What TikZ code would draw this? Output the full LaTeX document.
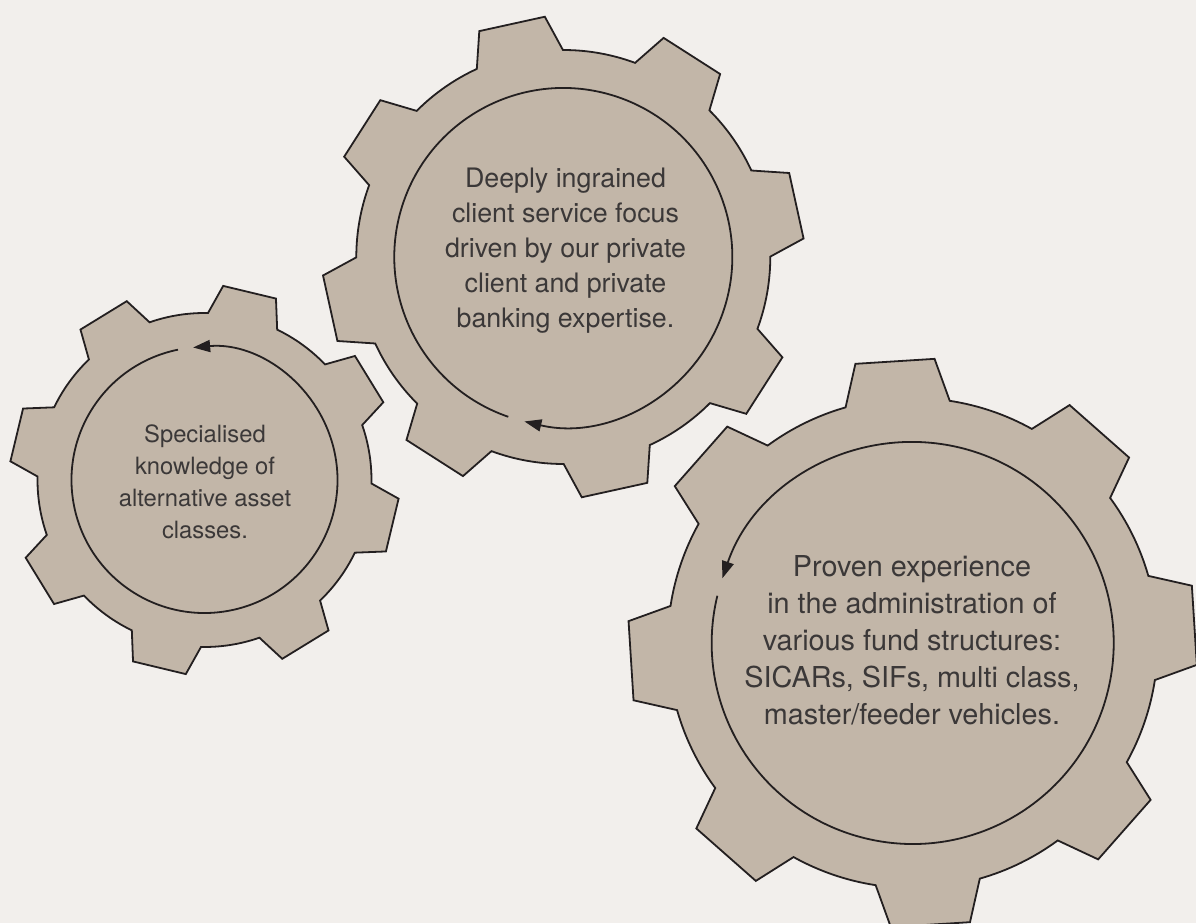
\documentclass[tikz,border=0pt]{standalone}
\usepackage{fontspec}
\setmainfont{TeX Gyre Heros}
\usetikzlibrary{arrows.meta}
\definecolor{paper}{HTML}{F2EFEC}
\definecolor{cogfill}{HTML}{C2B6A8}
\definecolor{ink}{HTML}{231F20}
\definecolor{textgrey}{HTML}{3B3838}
% outline of a cog with 8 teeth: root radius, tip radius, angle of first tooth
\newcommand{\cogoutline}[3]{(#3-32.7:#1) \foreach \a in {0,45,...,315} {
    arc[start angle=#3+\a-32.7, end angle=#3+\a-12.3, radius=#1]
    -- (#3+\a-8:#2) -- (#3+\a+8:#2) -- (#3+\a+12.3:#1)} -- cycle}

\begin{document}
\begin{tikzpicture}[x=0.5pt,y=0.5pt,
  cog/.style={fill=cogfill,draw=ink,line width=0.9pt,line join=miter},
  rim/.style={draw=ink,line width=0.9pt},
  turn/.style={rim,-{Triangle[length=8.5pt,width=6pt]}},
  cogtext/.style={text=textgrey,align=center,inner sep=0pt}]
  \fill[paper] (0,0) rectangle (1196,923);
  \clip (0,0) rectangle (1196,923);
  \coordinate (c1) at (204.5,443);
  \coordinate (c2) at (563.3,666);
  \coordinate (c3) at (912.7,280);
  % left cog
  \begin{scope}[shift={(c1)}]
    \filldraw[cog] \cogoutline{167}{195}{31.5};
    \draw[turn] (-258.5:133) arc[start angle=-258.5, end angle=94.9, radius=133];
  \end{scope}
  % top cog
  \begin{scope}[shift={(c2)}]
    \filldraw[cog] \cogoutline{207}{241}{12.4};
    \draw[turn] (251:169) arc[start angle=251, end angle=-103.3, radius=169];
  \end{scope}
  % big cog
  \begin{scope}[shift={(c3)}]
    \filldraw[cog] \cogoutline{245}{285}{3.6};
    \draw[turn] (-193.6:201) arc[start angle=-193.6, end angle=161.2, radius=201];
  \end{scope}
  \node[cogtext,font=\fontsize{11.9}{16}\selectfont] (knowledge) at (205,441)
    {Specialised\\knowledge of\\alternative asset\\classes.};
  \node[cogtext,font=\fontsize{13.4}{17.5}\selectfont] (service) at (565.5,672)
    {Deeply ingrained\\client service focus\\driven by our private\\client and private\\banking expertise.};
  \node[cogtext,font=\fontsize{14.4}{18.5}\selectfont] (experience) at (912,283)
    {Proven experience\\in the administration of\\various fund structures:\\SICARs, SIFs, multi class,\\master/feeder vehicles.};
\end{tikzpicture}
\end{document}
